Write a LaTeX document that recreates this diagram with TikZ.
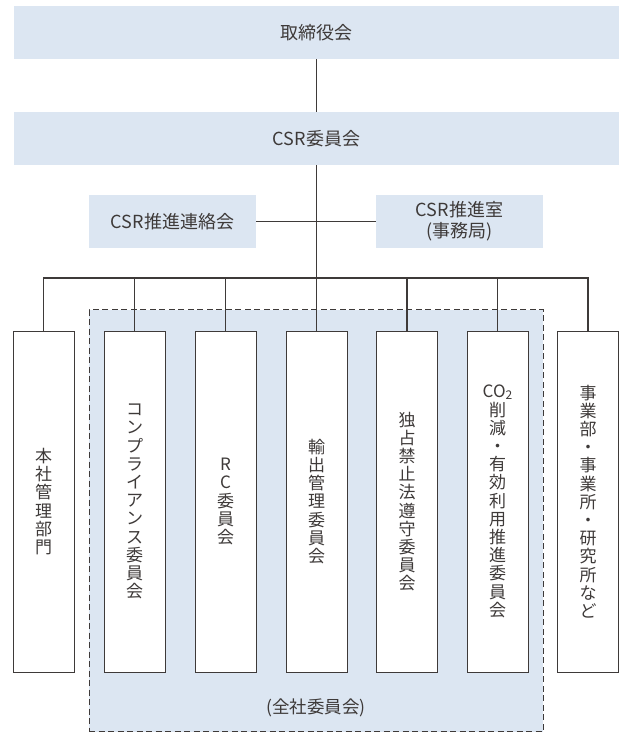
\documentclass[tikz,border=0pt]{standalone}
\usepackage{fontspec}
\newfontfamily\jp{Noto Sans CJK JP}
\definecolor{lb}{HTML}{DCE6F2}
\definecolor{ln}{HTML}{3E3A39}
\definecolor{tx}{HTML}{3E3A39}
\tikzset{
  hbox/.style={fill=lb, draw=none, inner sep=0pt, text=tx, align=center,
    font=\jp\fontsize{18}{21}\selectfont},
  vbox/.style={fill=white, draw=ln, line width=1pt, minimum width=61pt,
    minimum height=341pt, inner sep=0pt, text=tx, align=center,
    font=\jp\fontsize{17}{18.2}\selectfont},
  conn/.style={draw=ln, line width=1.1pt},
  groupbox/.style={fill=lb, draw=ln, line width=1pt, dash pattern=on 6pt off 3.5pt,
    inner sep=0pt},
  lbl/.style={text=tx, font=\jp\fontsize{17.5}{21}\selectfont, inner sep=0pt}
}
\begin{document}
\begin{tikzpicture}[x=1pt,y=-1pt]
\useasboundingbox (0,0) rectangle (620,733);

% group background
\node[groupbox, minimum width=454pt, minimum height=422pt] (grp) at (316,520.5) {};
\node[lbl] (grplbl) at (316,708) {(全社委員会)};

% top boxes
\node[hbox, minimum width=605pt, minimum height=53pt] (top) at (316.5,32.5) {取締役会};
\node[hbox, minimum width=605pt, minimum height=53pt] (csr) at (316.5,138.5) {CSR委員会};
\node[hbox, minimum width=167pt, minimum height=53pt] (lian) at (172.5,221.5) {CSR推進連絡会};
\node[hbox, minimum width=167pt, minimum height=53pt] (shitsu) at (459.5,221.5) {CSR推進室\\(事務局)};

% vertical boxes
\node[vbox] (b1) at (43.5,501.5) {本\\社\\管\\理\\部\\門};
\node[vbox] (b2) at (134.5,501.5) {コ\\ン\\プ\\ラ\\イ\\ア\\ン\\ス\\委\\員\\会};
\node[vbox] (b3) at (225.5,501.5) {R\\C\\委\\員\\会};
\node[vbox] (b4) at (316.5,501.5) {輸\\出\\管\\理\\委\\員\\会};
\node[vbox] (b5) at (407,501.5) {独\\占\\禁\\止\\法\\遵\\守\\委\\員\\会};
\node[vbox] (b6) at (497.5,501.5) {CO{\fontsize{12}{12}\selectfont\raisebox{-0.25ex}{2}}\\削\\減\\・\\有\\効\\利\\用\\推\\進\\委\\員\\会};
\node[vbox] (b7) at (588,501.5) {事\\業\\部\\・\\事\\業\\所\\・\\研\\究\\所\\な\\ど};

% connectors
\coordinate (bus) at (316.5,278);
\draw[conn] (top.south) -- (csr.north);
\draw[conn] (csr.south) -- (bus);
\draw[conn] (lian.east) -- (shitsu.west);
\draw[conn] (b1.north) -- (b1.north |- bus) -- (b7.north |- bus) -- (b7.north);
\draw[conn] (b2.north) -- (b2.north |- bus);
\draw[conn] (b3.north) -- (b3.north |- bus);
\draw[conn] (b4.north) -- (b4.north |- bus);
\draw[conn] (b5.north) -- (b5.north |- bus);
\draw[conn] (b6.north) -- (b6.north |- bus);
\end{tikzpicture}
\end{document}
